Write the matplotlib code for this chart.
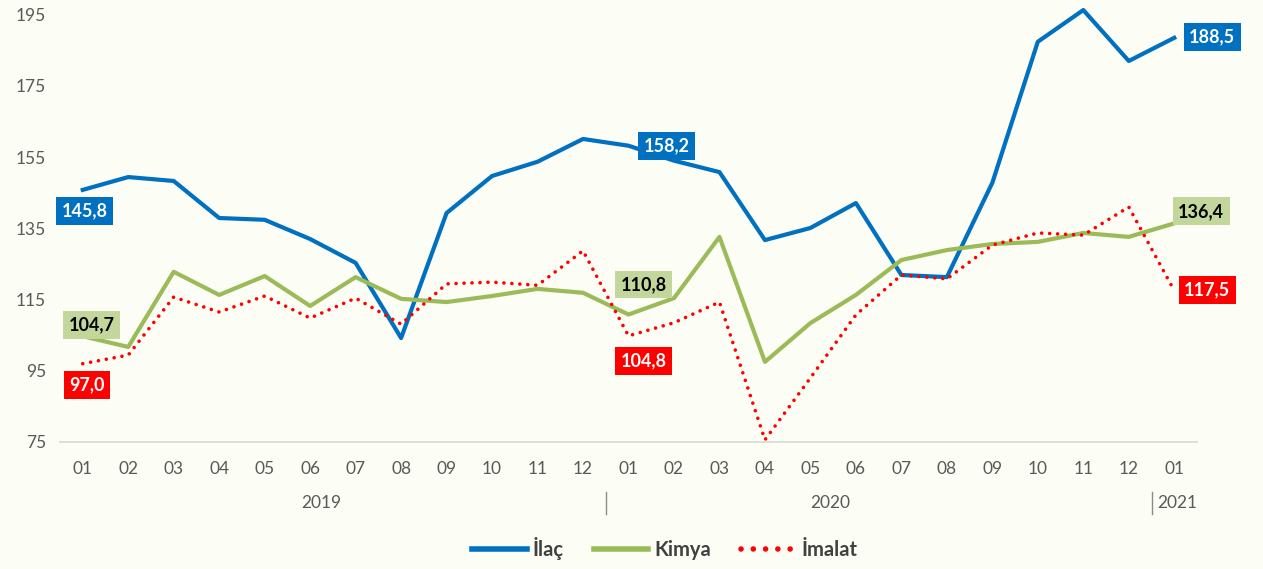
import matplotlib.pyplot as plt

months = ["01", "02", "03", "04", "05", "06", "07", "08", "09", "10", "11", "12",
          "01", "02", "03", "04", "05", "06", "07", "08", "09", "10", "11", "12", "01"]
years = ["2019", "2020", "2021"]

ilac = [145.8, 149.4, 148.3, 137.9, 137.4, 132.0, 125.3, 104.2, 139.3, 149.7, 153.7, 160.1,
        158.2, 154.0, 150.8, 131.7, 135.1, 142.1, 121.9, 121.3, 147.8, 187.4, 196.3, 182.0, 188.5]
kimya = [104.7, 101.7, 122.8, 116.3, 121.6, 113.2, 121.3, 115.2, 114.3, 116.0, 118.0, 116.9,
         110.8, 115.4, 132.6, 97.5, 108.4, 116.3, 126.1, 128.9, 130.6, 131.2, 133.7, 132.6, 136.4]
imalat = [97.0, 99.4, 115.7, 111.5, 116.0, 109.8, 115.4, 108.1, 119.4, 119.9, 119.0, 128.7,
          104.8, 108.5, 114.3, 75.6, 93.0, 110.7, 121.9, 120.8, 130.3, 133.7, 133.1, 141.0, 117.5]

BG = "#FCFDF5"
BLUE = "#0070C0"
GREEN = "#9BBB59"
RED = "#FF0000"
GREY = "#595959"
FONT = ["Lato", "DejaVu Sans"]

plt.rcParams["font.family"] = FONT

fig = plt.figure(figsize=(12.63, 5.69), dpi=100, facecolor=BG)
ax = fig.add_axes([60 / 1263, 1 - 442 / 569, (1197 - 60) / 1263, (442 - 4) / 569])
ax.set_facecolor(BG)

x = list(range(len(months)))
ax.plot(x, ilac, color=BLUE, lw=3, label="İlaç", solid_joinstyle="round", clip_on=False)
ax.plot(x, kimya, color=GREEN, lw=3, label="Kimya", solid_joinstyle="round", clip_on=False)
ax.plot(x, imalat, color=RED, lw=2.6, ls=(0, (0.01, 2.2)), dash_capstyle="round",
        label="İmalat", clip_on=False)

ax.set_xlim(-0.5, len(months) - 0.5)
ax.set_ylim(75, 198)
ax.set_yticks(range(75, 196, 20))
ax.set_xticks(x)
ax.set_xticklabels(months)
ax.tick_params(axis="both", length=0, labelsize=12.5, labelcolor=GREY)
ax.tick_params(axis="x", pad=14)
ax.tick_params(axis="y", pad=10)
for s in ["top", "right", "left"]:
    ax.spines[s].set_visible(False)
ax.spines["bottom"].set_color("#D9D9D9")
ax.spines["bottom"].set_linewidth(1.2)

# year row under month labels
trans = ax.get_xaxis_transform()
ax.text(5.24, -0.14, years[0], transform=trans, ha="center", va="center", fontsize=12.5, color=GREY)
ax.text(16.43, -0.14, years[1], transform=trans, ha="center", va="center", fontsize=12.5, color=GREY)
ax.text(23.62, -0.14, years[2], transform=trans, ha="left", va="center", fontsize=12.5, color=GREY)
for xs in [11.5, 23.5]:
    ax.plot([xs, xs], [-0.115, -0.165], transform=trans, color="#8C8C8C", lw=1, clip_on=False)


def fmt(v):
    return f"{v:.1f}".replace(".", ",")


def label(series, i, dx, dy, face, tc):
    ax.annotate(fmt(series[i]), (x[i], series[i]), xytext=(dx, dy), textcoords="offset pixels",
                ha="center", va="center", fontsize=13, fontweight="bold", color=tc,
                bbox=dict(boxstyle="square,pad=0.3", fc=face, ec="none"))


label(ilac, 0, 2, -21, BLUE, "white")
label(ilac, 12, 38, 0, BLUE, "white")
label(ilac, 24, 38, 1, BLUE, "white")
label(kimya, 0, 9, 11, "#C3D69B", "black")
label(kimya, 12, 15, 30, "#C3D69B", "black")
label(kimya, 24, 27, 12, "#C3D69B", "black")
label(imalat, 0, 4, -21, RED, "white")
label(imalat, 12, 15, -25, RED, "white")
label(imalat, 24, 33, 1, RED, "white")

leg = fig.legend(loc="center", bbox_to_anchor=(665 / 1263, 1 - 549 / 569), ncol=3,
                 frameon=False, handlelength=2.7, columnspacing=1.5, handletextpad=0.3,
                 prop={"weight": "bold", "size": 14.5, "family": FONT})
for t in leg.get_texts():
    t.set_color("#404040")
for h in leg.legend_handles:
    h.set_linewidth(4)

fig.savefig("out.png", dpi=100, facecolor=BG)
